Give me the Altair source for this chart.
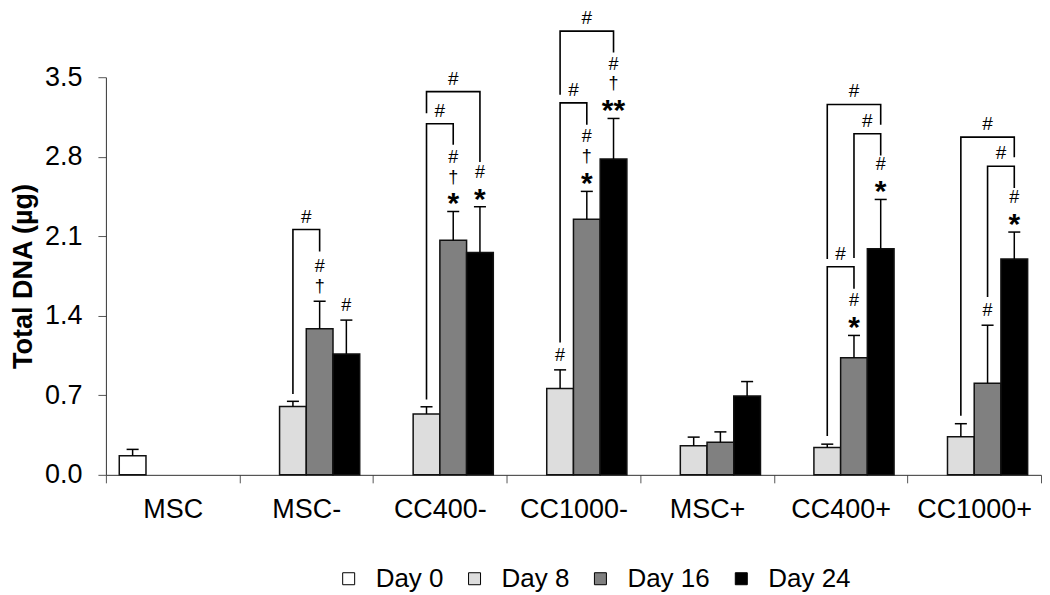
import altair as alt
import pandas as pd

categories = ["MSC", "MSC-", "CC400-", "CC1000-", "MSC+", "CC400+", "CC1000+"]
days = ["Day 0", "Day 8", "Day 16", "Day 24"]
day_fills = ["#FFFFFF", "#DDDDDD", "#808080", "#000000"]

mean_day0 = [0.167, None, None, None, None, None, None]
err_day0 = [0.057, None, None, None, None, None, None]
mean_day8 = [None, 0.601, 0.536, 0.761, 0.255, 0.240, 0.335]
err_day8 = [None, 0.046, 0.063, 0.163, 0.077, 0.030, 0.115]
mean_day16 = [None, 1.285, 2.064, 2.249, 0.287, 1.030, 0.807]
err_day16 = [None, 0.243, 0.254, 0.246, 0.091, 0.197, 0.510]
mean_day24 = [None, 1.064, 1.957, 2.780, 0.693, 1.991, 1.900]
err_day24 = [None, 0.298, 0.403, 0.357, 0.128, 0.433, 0.237]

y_ticks = [0.0, 0.7, 1.4, 2.1, 2.8, 3.5]

# significance symbols stacked above error bars (listed bottom to top)
sig_category = ["MSC-", "MSC-", "CC400-", "CC400-", "CC1000-", "CC1000-", "CC1000-",
                "CC400+", "CC400+", "CC1000+", "CC1000+"]
sig_day = ["Day 16", "Day 24", "Day 16", "Day 24", "Day 8", "Day 16", "Day 24",
           "Day 16", "Day 24", "Day 16", "Day 24"]
sig_symbols = [["†", "#"], ["#"], ["*", "†", "#"], ["*", "#"], ["#"], ["*", "†", "#"],
               ["**", "†", "#"], ["*", "#"], ["*", "#"], ["#"], ["*", "#"]]

# comparison brackets
br_category = ["MSC-", "CC400-", "CC400-", "CC1000-", "CC1000-",
               "CC400+", "CC400+", "CC400+", "CC1000+", "CC1000+"]
br_left_day = ["Day 8", "Day 8", "Day 8", "Day 8", "Day 8",
               "Day 8", "Day 16", "Day 8", "Day 16", "Day 8"]
br_right_day = ["Day 16", "Day 16", "Day 24", "Day 16", "Day 24",
                "Day 16", "Day 24", "Day 24", "Day 24", "Day 24"]
br_top = [2.159, 3.090, 3.373, 3.274, 3.906, 1.832, 3.002, 3.260, 2.716, 2.973]
br_left_end = [0.712, 0.664, 3.182, 1.165, 3.345, 0.341, 1.909, 1.900, 1.566, 0.521]
br_right_end = [1.966, 2.905, 2.753, 3.082, 3.717, 1.637, 2.810, 3.082, 2.524, 2.796]
br_label = ["#"] * len(br_top)

FONT = "Liberation Sans"
GROUP_UNITS = 5  # 4 bar slots + half-slot padding on each side


def slot_center(cat, day):
    return GROUP_UNITS * categories.index(cat) + 1 + days.index(day)


means = [mean_day0, mean_day8, mean_day16, mean_day24]
errs = [err_day0, err_day8, err_day16, err_day24]
bar_rows = []
for i, cat in enumerate(categories):
    for j, day in enumerate(days):
        m = means[j][i]
        if m is None:
            continue
        e = errs[j][i]
        bar_rows.append({"category": cat, "day": day, "mean": m, "err": e,
                         "top": m + e, "pos": slot_center(cat, day)})
bars_df = pd.DataFrame(bar_rows)
top_lookup = {(r["category"], r["day"]): r["top"] for r in bar_rows}

sig_rows = []
for cat, day, syms in zip(sig_category, sig_day, sig_symbols):
    for lvl, s in enumerate(syms):
        sig_rows.append({"pos": slot_center(cat, day), "value": top_lookup[(cat, day)],
                         "symbol": s, "level": lvl, "star": "*" in s})
sig_df = pd.DataFrame(sig_rows)

br_pts = []
br_lab = []
for b in range(len(br_top)):
    xl = slot_center(br_category[b], br_left_day[b])
    xr = slot_center(br_category[b], br_right_day[b])
    for k, (xx, yy) in enumerate([(xl, br_left_end[b]), (xl, br_top[b]),
                                  (xr, br_top[b]), (xr, br_right_end[b])]):
        br_pts.append({"bid": b, "ord": k, "pos": xx, "value": yy})
    br_lab.append({"pos": (xl + xr) / 2, "value": br_top[b], "label": br_label[b]})
br_df = pd.DataFrame(br_pts)
brlab_df = pd.DataFrame(br_lab)

y_scale = alt.Scale(domain=[0, 3.5], nice=False, zero=True)
y_axis = alt.Axis(values=y_ticks, format=".1f", title="Total DNA (µg)",
                  titleFont=FONT, titleFontSize=27, titleFontWeight="bold",
                  titleColor="black", titlePadding=7,
                  labelFont=FONT, labelFontSize=27, labelColor="black",
                  labelPadding=16, tickSize=8, tickColor="#555555",
                  domainColor="#333333", grid=False, labelOverlap=False)


def Y(field):
    return alt.Y(f"{field}:Q", scale=y_scale, axis=y_axis, title="Total DNA (µg)")


xq_scale = alt.Scale(domain=[0, GROUP_UNITS * len(categories)], nice=False, zero=False)


def XQ(field):
    return alt.X(f"{field}:Q", scale=xq_scale, axis=None)


bars = alt.Chart(bars_df).mark_bar(stroke="#111111", strokeWidth=1.5).encode(
    x=alt.X("category:N", sort=categories,
            scale=alt.Scale(type="band", domain=categories, paddingInner=0, paddingOuter=0),
            axis=alt.Axis(title=None, labelAngle=0, tickBand="extent", tickSize=8,
                          labelFont=FONT, labelFontSize=27, labelColor="black",
                          labelPadding=14, tickColor="#555555", domainColor="#333333",
                          grid=False)),
    xOffset=alt.XOffset("day:N", sort=days,
                        scale=alt.Scale(domain=days, paddingInner=0, paddingOuter=0.5)),
    y=Y("mean"),
    fill=alt.Fill("day:N", sort=days,
                  scale=alt.Scale(domain=days, range=day_fills),
                  legend=alt.Legend(title=None, orient="none", legendX=230, legendY=489,
                                    direction="horizontal", columns=4,
                                    symbolType="square", symbolSize=144,
                                    symbolStrokeColor="black", symbolStrokeWidth=1,
                                    labelFont=FONT, labelFontSize=26, labelColor="black",
                                    labelOffset=14, columnPadding=18)),
)

err_rule = alt.Chart(bars_df).mark_rule(color="black", strokeWidth=1.5).encode(
    x=XQ("pos"), y=Y("mean"), y2="top:Q")

caps = alt.Chart(bars_df).transform_calculate(
    cl="datum.pos - 0.225", cr="datum.pos + 0.225"
).mark_rule(color="black", strokeWidth=1.5).encode(
    x=XQ("cl"), x2="cr:Q", y=Y("top"))

brackets = alt.Chart(br_df).mark_line(color="black", strokeWidth=1.6,
                                      strokeJoin="miter", strokeCap="butt").encode(
    x=XQ("pos"), y=Y("value"), detail="bid:N", order="ord:Q")

br_text = alt.Chart(brlab_df).mark_text(font=FONT, fontSize=19, color="black",
                                        baseline="middle", dy=-13).encode(
    x=XQ("pos"), y=Y("value"), text="label:N")

stars = alt.Chart(sig_df).transform_filter("datum.star").mark_text(
    font=FONT, fontSize=30, fontWeight="bold", color="black",
    baseline="alphabetic", dy=2).encode(x=XQ("pos"), y=Y("value"), text="symbol:N")

plain_layers = []
for lvl, off in zip([0, 1, 2], [-14, -34, -54]):
    plain_layers.append(
        alt.Chart(sig_df).transform_filter(f"!datum.star && datum.level == {lvl}").mark_text(
            font=FONT, fontSize=18, color="black", baseline="middle", dy=off
        ).encode(x=XQ("pos"), y=Y("value"), text="symbol:N"))

inner = alt.layer(err_rule, caps, brackets, br_text, stars, *plain_layers)

chart = alt.layer(bars, inner).resolve_scale(x="independent").properties(
    width=936, height=398,
    padding={"left": 1, "top": 0, "right": 0, "bottom": 0},
).configure_view(stroke=None)

chart.save("out.html", embed_options={"renderer": "svg", "actions": False})
